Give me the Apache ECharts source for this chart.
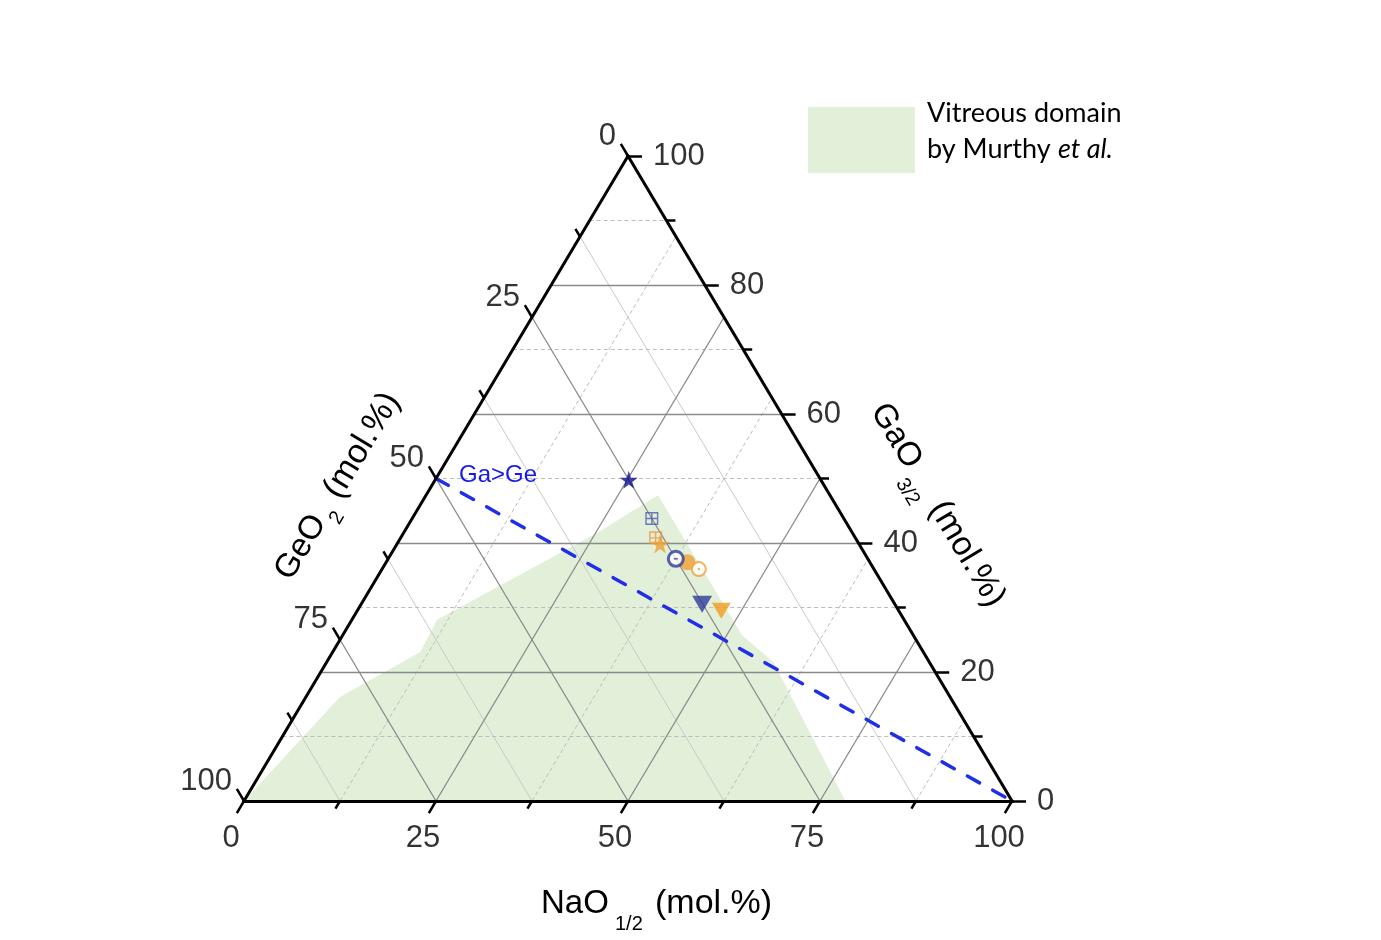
<!DOCTYPE html>
<html>
<head>
<meta charset="utf-8">
<script src="https://cdn.jsdelivr.net/npm/echarts@6/dist/echarts.min.js"></script>
<style>html,body{margin:0;padding:0;background:#fff}#c{width:1381px;height:940px}</style>
</head>
<body>
<div id="c"></div>
<script>
// ---------- DATA (ternary compositions, mol.%: [NaO1/2, GaO3/2]; GeO2 = 100 - both) ----------
const naTicks = [0, 25, 50, 75, 100];
const naMinor = [12.5, 37.5, 62.5, 87.5];
const geTicks = [0, 25, 50, 75, 100];
const geMinor = [12.5, 37.5, 62.5, 87.5];
const gaTicks = [0, 20, 40, 60, 80, 100];
const gaMinor = [10, 30, 50, 70, 90];
const vitreousDomain = [[0, 0], [4.4, 16.1], [11.4, 23.1], [11.1, 28.1], [25.2, 41.6], [30.2, 47.4], [52.0, 25.7], [58.1, 21.6], [78.3, 0]];
const gaGeLine = [[0, 50], [100, 0]];
const navyStar = [[25.2, 49.8]];
const blueGridSquare = [[31.2, 43.8]];
const orangeGridSquare = [[33.2, 40.8]];
const orangeStar = [[34.25, 39.85]];
const orangeFilledCircle = [[39.25, 37.0]];
const navyOpenCircle = [[37.45, 37.55]];
const orangeOpenCircle = [[41.25, 35.95]];
const navyTriangle = [[44.4, 30.5]];
const orangeTriangle = [[47.4, 29.5]];

// ---------- layout ----------
const FX = 7.68, FY = 6.45;             // px per data unit
const X0 = 244, Y0 = 801;                // pixel of the GeO2 corner
const X_MIN = -X0 / FX, X_MAX = (1381 - X0) / FX;
const Y_MIN = -(940 - Y0) / FY, Y_MAX = Y0 / FY;

function tern(na, ga) { return [na + ga / 2, ga]; }
function seg(a, b) { return [a, b]; }
function tickEnd(base, dir, len) { return [base[0] + dir[0] * len / FX, base[1] - dir[1] * len / FY]; }

const DIR_NA = [-0.5116, 0.8593], DIR_GE = [-0.5116, -0.8593], DIR_GA = [1, 0];
const MAJ = 14, MIN = 9;

const gaLine = a => seg(tern(0, a), tern(100 - a, a));
const naLine = n => seg(tern(n, 0), tern(n, 100 - n));
const geLine = g => seg(tern(100 - g, 0), tern(0, 100 - g));
const inner = v => v > 0 && v < 100;

const majorGrid = [...gaTicks.filter(inner).map(gaLine), ...naTicks.filter(inner).map(naLine), ...geTicks.filter(inner).map(geLine)];
const dashedGrid = [...gaMinor.map(gaLine), ...naMinor.map(naLine)];
const lightGrid = [...geMinor.map(geLine)];

const naBase = n => tern(n, 0), geBase = g => tern(0, 100 - g), gaBase = a => tern(100 - a, a);
const ticks = [
  ...naTicks.map(n => seg(naBase(n), tickEnd(naBase(n), DIR_NA, MAJ))),
  ...naMinor.map(n => seg(naBase(n), tickEnd(naBase(n), DIR_NA, MIN))),
  ...geTicks.map(g => seg(geBase(g), tickEnd(geBase(g), DIR_GE, MAJ))),
  ...geMinor.map(g => seg(geBase(g), tickEnd(geBase(g), DIR_GE, MIN))),
  ...gaTicks.map(a => seg(gaBase(a), tickEnd(gaBase(a), DIR_GA, MAJ))),
  ...gaMinor.map(a => seg(gaBase(a), tickEnd(gaBase(a), DIR_GA, MIN)))
];
const edges = [seg(tern(0, 0), tern(100, 0)), seg(tern(100, 0), tern(0, 100)), seg(tern(0, 100), tern(0, 0))];

const STAR = 'path://M50,0 L61.2,34.5 L97.6,34.5 L68.2,55.9 L79.4,90.5 L50,69.1 L20.6,90.5 L31.8,55.9 L2.4,34.5 L38.8,34.5 Z';
const GRIDSQ = 'path://M0,0H12V1.3H0Z M0,10.7H12V12H0Z M0,0H1.3V12H0Z M10.7,0H12V12H10.7Z M5.35,0H6.65V12H5.35Z M0,5.35H12V6.65H0Z';
const FONT = "Liberation Sans";
const NAVY = '#2e3b9b', ORANGE = '#f0a033';

function linesSeries(list, style, z) {
  return { type: 'lines', coordinateSystem: 'cartesian2d', polyline: false, silent: true, z: z,
    lineStyle: style, data: list.map(c => ({ coords: c })) };
}
function pts(list) { return list.map(p => tern(p[0], p[1])); }
function labelSeries(bases, texts, opts) {
  return { type: 'scatter', symbolSize: 1, z: 10, silent: true, itemStyle: { color: 'rgba(0,0,0,0)' },
    data: bases.map((b, i) => ({ value: b, name: texts[i] })),
    label: Object.assign({ show: true, position: 'inside', formatter: '{b}', color: '#000', fontSize: 31, fontFamily: FONT, verticalAlign: 'middle' }, opts) };
}

const chart = echarts.init(document.getElementById('c'));
const sub = (x, y, text, size, extra) => Object.assign({ type: 'text', x: x, y: y, style: { text: text, font: size + 'px ' + FONT, fill: '#000', align: 'left', verticalAlign: 'middle' } }, extra || {});
const LEG = "27px Lato";

chart.setOption({
  animation: false,
  backgroundColor: '#fff',
  grid: { left: 0, right: 0, top: 0, bottom: 0 },
  xAxis: { type: 'value', min: X_MIN, max: X_MAX, show: false },
  yAxis: { type: 'value', min: Y_MIN, max: Y_MAX, show: false },
  graphic: [
    { type: 'rect', shape: { x: 808, y: 107, width: 107, height: 66 }, style: { fill: '#e2efd9' } },
    { type: 'text', x: 927, y: 113, style: { text: 'Vitreous domain', font: LEG, fill: '#000', align: 'left', verticalAlign: 'middle' } },
    { type: 'group', x: 927, y: 149, children: [
      { type: 'text', x: 0, y: 0, style: { text: 'by Murthy', font: LEG, fill: '#000', align: 'left', verticalAlign: 'middle' } },
      { type: 'text', x: 131, y: 0, style: { text: 'et al.', font: 'italic ' + LEG, fill: '#000', align: 'left', verticalAlign: 'middle' } }
    ] },
    { type: 'text', x: 498, y: 475, z: 20, style: { text: 'Ga>Ge', font: '24px ' + FONT, fill: '#1a1ae6', align: 'center', verticalAlign: 'middle' } },
    { type: 'group', x: 541, y: 904, children: [sub(0, 0, 'NaO', 33), sub(74, 20, '1/2', 20), sub(114, 0, '(mol.%)', 34)] },
    { type: 'group', x: 283, y: 577, rotation: 59 * Math.PI / 180, children: [sub(0, 0, 'GeO', 33), sub(73, 16, '2', 20), sub(95, 0, '(mol.%)', 34)] },
    { type: 'group', x: 878, y: 406, rotation: -59 * Math.PI / 180, children: [sub(0, 0, 'GaO', 33), sub(75, 19, '3/2', 20), sub(114, 0, '(mol.%)', 34)] }
  ],
  series: [
    { type: 'custom', coordinateSystem: 'cartesian2d', silent: true, z: 1, data: [[0, 0]],
      renderItem: function (params, api) {
        const points = vitreousDomain.map(p => api.coord(tern(p[0], p[1])));
        return { type: 'polygon', shape: { points: points }, style: { fill: '#e2efd9' } };
      } },
    linesSeries(lightGrid, { color: '#c9c9c9', width: 1, type: 'solid', opacity: 1 }, 2),
    linesSeries(dashedGrid, { color: '#bdbdbd', width: 1, type: [4, 3], opacity: 1 }, 2),
    linesSeries(majorGrid, { color: '#8a8a8a', width: 1.3, type: 'solid', opacity: 1 }, 3),
    linesSeries([seg(tern(gaGeLine[0][0], gaGeLine[0][1]), tern(gaGeLine[1][0], gaGeLine[1][1]))], { color: '#1f2fe6', width: 3.5, type: [14, 15], cap: 'round', opacity: 1 }, 4),
    linesSeries(ticks, { color: '#000', width: 2.5, type: 'solid', opacity: 1 }, 5),
    linesSeries(edges, { color: '#000', width: 3, type: 'solid', opacity: 1, cap: 'square' }, 5),
    { type: 'scatter', z: 6, data: pts(navyStar), symbol: STAR, symbolSize: 18, itemStyle: { color: '#0d0d8c' } },
    { type: 'scatter', z: 6, data: pts(blueGridSquare), symbol: GRIDSQ, symbolSize: 13, itemStyle: { color: '#4b5bb0' } },
    { type: 'scatter', z: 6, data: pts(orangeGridSquare), symbol: GRIDSQ, symbolSize: 13, itemStyle: { color: '#e8963a' } },
    { type: 'scatter', z: 6, data: pts(orangeStar), symbol: STAR, symbolSize: 19, itemStyle: { color: ORANGE } },
    { type: 'scatter', z: 6, data: pts(orangeFilledCircle), symbol: 'circle', symbolSize: 16, itemStyle: { color: ORANGE } },
    { type: 'scatter', z: 7, data: pts(navyOpenCircle), symbol: 'circle', symbolSize: 15, itemStyle: { color: '#fff', borderColor: NAVY, borderWidth: 3 } },
    { type: 'scatter', z: 7, data: pts(navyOpenCircle), symbol: 'rect', symbolSize: [4, 1.5], itemStyle: { color: NAVY } },
    { type: 'scatter', z: 8, data: pts(orangeOpenCircle), symbol: 'circle', symbolSize: 14, itemStyle: { color: '#fff', borderColor: ORANGE, borderWidth: 2 } },
    { type: 'scatter', z: 8, data: pts(orangeOpenCircle), symbol: 'circle', symbolSize: 2.5, itemStyle: { color: ORANGE } },
    { type: 'scatter', z: 6, data: pts(navyTriangle), symbol: 'triangle', symbolRotate: 180, symbolSize: [20, 17], itemStyle: { color: NAVY } },
    { type: 'scatter', z: 6, data: pts(orangeTriangle), symbol: 'triangle', symbolRotate: 180, symbolSize: [19, 16], itemStyle: { color: '#f29b1d' } },
    labelSeries(naTicks.map(naBase), naTicks.map(String), { align: 'center', offset: [-13, 37] }),
    labelSeries(geTicks.map(geBase), geTicks.map(String), { align: 'right', offset: [-12, -20] }),
    labelSeries(gaTicks.map(gaBase), gaTicks.map(String), { align: 'left', offset: [25, 0] })
  ]
});
</script>
</body>
</html>
